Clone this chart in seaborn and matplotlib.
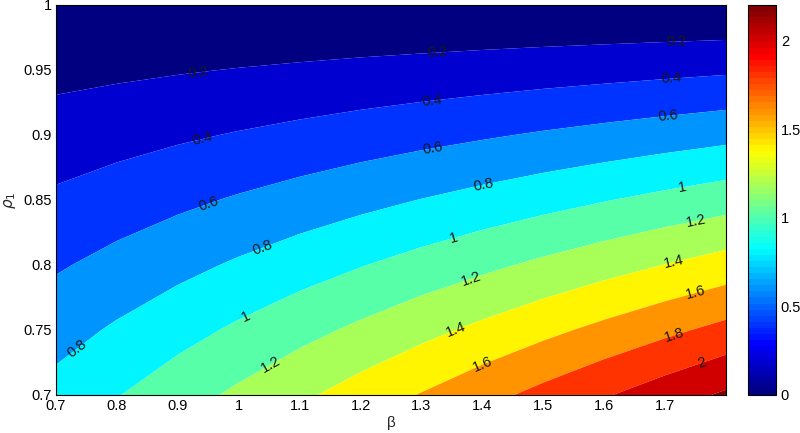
import numpy as np
import matplotlib
matplotlib.use("Agg")
import matplotlib.pyplot as plt
import seaborn as sns
from matplotlib.colors import LinearSegmentedColormap, Normalize
from matplotlib.cm import ScalarMappable

# ---------------- data ----------------
beta = [0.7, 0.8, 0.9, 1.0, 1.1, 1.2, 1.3, 1.4, 1.5, 1.6, 1.7, 1.8]
rho1 = [0.70, 0.75, 0.80, 0.85, 0.90, 0.95, 1.00]

z_rho_070 = [0.867, 0.991, 1.115, 1.239, 1.363, 1.487, 1.611, 1.735, 1.859, 1.982, 2.106, 2.230]
z_rho_075 = [0.723, 0.826, 0.929, 1.033, 1.136, 1.239, 1.342, 1.446, 1.549, 1.652, 1.755, 1.859]
z_rho_080 = [0.578, 0.661, 0.743, 0.826, 0.909, 0.991, 1.074, 1.156, 1.239, 1.322, 1.404, 1.487]
z_rho_085 = [0.434, 0.496, 0.558, 0.620, 0.681, 0.743, 0.805, 0.867, 0.929, 0.991, 1.053, 1.115]
z_rho_090 = [0.289, 0.330, 0.372, 0.413, 0.454, 0.496, 0.537, 0.578, 0.620, 0.661, 0.702, 0.743]
z_rho_095 = [0.145, 0.165, 0.186, 0.207, 0.227, 0.248, 0.268, 0.289, 0.310, 0.330, 0.351, 0.372]
z_rho_100 = [0.0, 0.0, 0.0, 0.0, 0.0, 0.0, 0.0, 0.0, 0.0, 0.0, 0.0, 0.0]

fill_levels = [0.0, 0.2, 0.4, 0.6, 0.8, 1.0, 1.2, 1.4, 1.6, 1.8, 2.0, 2.2, 2.4]
label_levels = [0.2, 0.4, 0.6, 0.8, 1.0, 1.2, 1.4, 1.6, 1.8, 2.0]
color_max = 2.2

xticks = [0.7, 0.8, 0.9, 1.0, 1.1, 1.2, 1.3, 1.4, 1.5, 1.6, 1.7]
xtick_labels = ["0.7", "0.8", "0.9", "1", "1.1", "1.2", "1.3", "1.4", "1.5", "1.6", "1.7"]
yticks = [0.7, 0.75, 0.8, 0.85, 0.9, 0.95, 1.0]
ytick_labels = ["0.7", "0.75", "0.8", "0.85", "0.9", "0.95", "1"]
cbar_ticks = [0, 0.5, 1, 1.5, 2]
cbar_labels = ["0", "0.5", "1", "1.5", "2"]

# where the inline contour labels sit
label_spots = [
    (0.933, 0.948), (1.326, 0.964), (1.718, 0.972),
    (0.941, 0.896), (1.317, 0.927), (1.711, 0.942),
    (0.951, 0.846), (1.319, 0.890), (1.705, 0.914),
    (0.736, 0.735), (1.040, 0.812), (1.401, 0.862),
    (1.012, 0.760), (1.352, 0.821), (1.728, 0.859),
    (1.053, 0.723), (1.383, 0.788), (1.751, 0.832),
    (1.358, 0.748), (1.715, 0.801),
    (1.400, 0.723), (1.751, 0.778),
    (1.715, 0.745),
    (1.761, 0.723),
]

# ---------------- style ----------------
sns.set_theme(style="white")
plt.rcParams["font.family"] = ["Liberation Sans", "DejaVu Sans"]
plt.rcParams["mathtext.fontset"] = "dejavusans"
plt.rcParams["axes.edgecolor"] = "black"
plt.rcParams["axes.linewidth"] = 0.8

# MATLAB-style jet colormap (64 entries)
seg = {
    "red":   [(0.0, 0.0, 0.0), (0.375, 0.0, 0.0), (0.625, 1.0, 1.0), (0.875, 1.0, 1.0), (1.0, 0.5, 0.5)],
    "green": [(0.0, 0.0, 0.0), (0.125, 0.0, 0.0), (0.375, 1.0, 1.0), (0.625, 1.0, 1.0), (0.875, 0.0, 0.0), (1.0, 0.0, 0.0)],
    "blue":  [(0.0, 0.5, 0.5), (0.125, 1.0, 1.0), (0.375, 1.0, 1.0), (0.625, 0.0, 0.0), (1.0, 0.0, 0.0)],
}
mjet = LinearSegmentedColormap("mjet", seg, N=64)

X, Y = np.meshgrid(np.array(beta), np.array(rho1))
Z = np.array([z_rho_070, z_rho_075, z_rho_080, z_rho_085, z_rho_090, z_rho_095, z_rho_100])

fig = plt.figure(figsize=(8.0, 4.33), dpi=100)
ax = fig.add_axes([0.07, 0.0878, 0.8375, 0.9007])

band_colors = [mjet(min(l / color_max, 1.0)) for l in fill_levels[:-1]]
ax.contourf(X, Y, Z, levels=fill_levels, colors=band_colors, antialiased=True)

cs = ax.contour(X, Y, Z, levels=label_levels, colors="k", linewidths=0)
ax.clabel(cs, fmt="%g", fontsize=10.5, colors="k", inline=False, manual=label_spots)

ax.set_xlim(0.7, 1.8)
ax.set_ylim(0.7, 1.0)
ax.set_xticks(xticks)
ax.set_xticklabels(xtick_labels)
ax.set_yticks(yticks)
ax.set_yticklabels(ytick_labels)
ax.tick_params(direction="in", length=5, width=0.6, top=True, right=True,
               labelsize=10.5, colors="black", pad=3)
for s in ax.spines.values():
    s.set_visible(True)
    s.set_color("black")
    s.set_linewidth(0.8)

ax.set_xlabel("β", fontsize=11, labelpad=2)
ax.set_ylabel(r"$\rho_1$", fontsize=11, labelpad=4)

# colorbar
cax = fig.add_axes([0.935, 0.0878, 0.035, 0.9007])
sm = ScalarMappable(norm=Normalize(0, color_max), cmap=mjet)
cb = fig.colorbar(sm, cax=cax)
cb.set_ticks(cbar_ticks)
cb.set_ticklabels(cbar_labels)
cb.outline.set_edgecolor("black")
cb.outline.set_linewidth(0.8)
cax.tick_params(direction="in", length=5, width=0.6, left=True, right=True,
                labelleft=False, labelright=True, labelsize=10.5, colors="black")

fig.savefig("out.png", dpi=100)
